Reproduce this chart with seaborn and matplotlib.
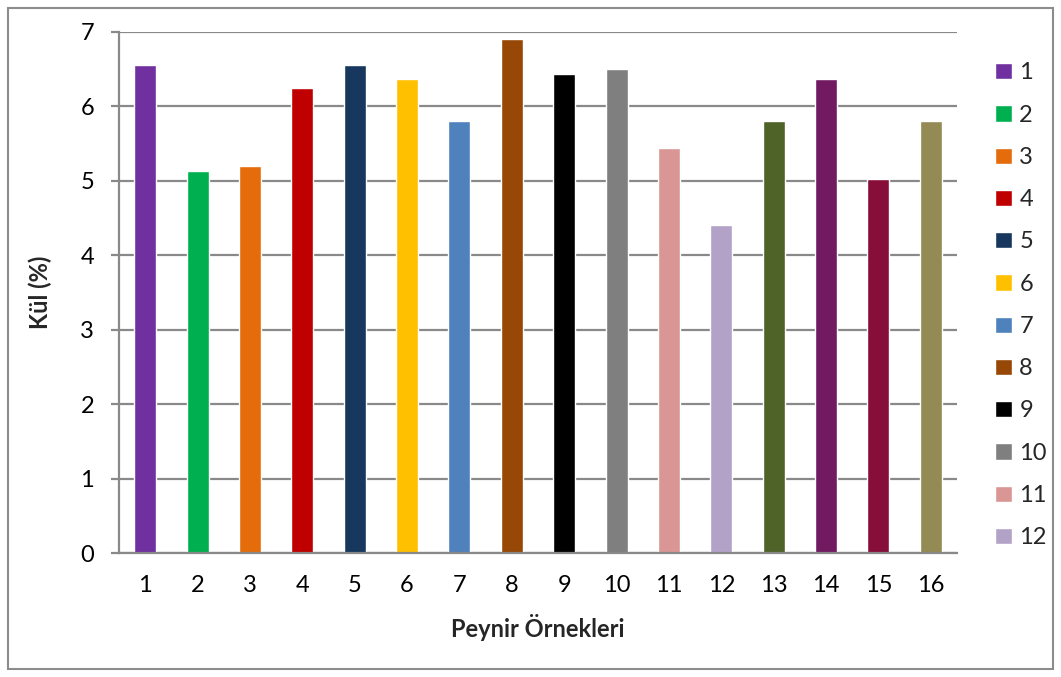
import matplotlib
matplotlib.use("Agg")
import matplotlib.pyplot as plt
from matplotlib.patches import Rectangle
import seaborn as sns
import pandas as pd

# Ash content of the cheese samples
samples = [str(i) for i in range(1, 17)]
ash = [6.55, 5.13, 5.20, 6.25, 6.55, 6.37, 5.80, 6.90,
       6.43, 6.50, 5.44, 4.41, 5.80, 6.37, 5.03, 5.80]
colors = ["#7030A0", "#00B050", "#E46C0A", "#C00000", "#17375E", "#FFC000",
          "#4F81BD", "#974706", "#000000", "#7F7F7F", "#D99694", "#B3A2C7",
          "#4F6228", "#711A62", "#880E3A", "#948A54"]
y_ticks = [0, 1, 2, 3, 4, 5, 6, 7]
legend_count = 12

df = pd.DataFrame({"sample": samples, "ash": ash})

sns.set_theme(style="white")
plt.rcParams["font.family"] = ["Lato", "DejaVu Sans"]

W, H = 1061, 677
fig = plt.figure(figsize=(W / 100, H / 100), dpi=100)
ax = fig.add_axes([119 / W, 1 - 553 / H, (957 - 119) / W, (553 - 32) / H])

sns.barplot(data=df, x="sample", y="ash", hue="sample", palette=colors,
            order=samples, hue_order=samples, width=0.42, legend=False,
            saturation=1, ax=ax)

grid_c = "#898989"
fs = 17
ax.set_ylim(0, 7)
ax.set_yticks(y_ticks)
ax.set_xlim(-0.5, len(samples) - 0.5)
ax.yaxis.grid(True, color=grid_c, linewidth=1.6)
ax.set_axisbelow(True)
for s in ["top", "right"]:
    ax.spines[s].set_visible(False)
for s in ["left", "bottom"]:
    ax.spines[s].set_color(grid_c)
    ax.spines[s].set_linewidth(1.6)

ax.tick_params(axis="y", left=True, length=6, width=1.6, color=grid_c,
               pad=12, labelsize=fs, labelcolor="black")
ax.tick_params(axis="x", bottom=False, length=0, pad=16, labelsize=fs,
               labelcolor="black")

ax.set_xlabel("Peynir Örnekleri", fontsize=fs, fontweight="bold", labelpad=13)
ax.set_ylabel("Kül (%)", fontsize=fs, fontweight="bold", labelpad=20)

# Legend limited to the first entries, as the frame leaves room for them
handles = ax.patches[:legend_count]
fig.legend(handles, samples[:legend_count], loc="upper left",
           bbox_to_anchor=(986 / W, 1 - 53 / H), frameon=False,
           fontsize=fs, handlelength=0.68, handleheight=0.68,
           handletextpad=0.33, labelspacing=0.9, borderaxespad=0)

# Outer chart frame
fig.patches.append(Rectangle((8 / W, 8 / H), 1 - 16 / W, 1 - 16 / H,
                             transform=fig.transFigure, fill=False,
                             edgecolor="#8C8C8C", linewidth=1.5))

fig.savefig("out.png", dpi=100)
